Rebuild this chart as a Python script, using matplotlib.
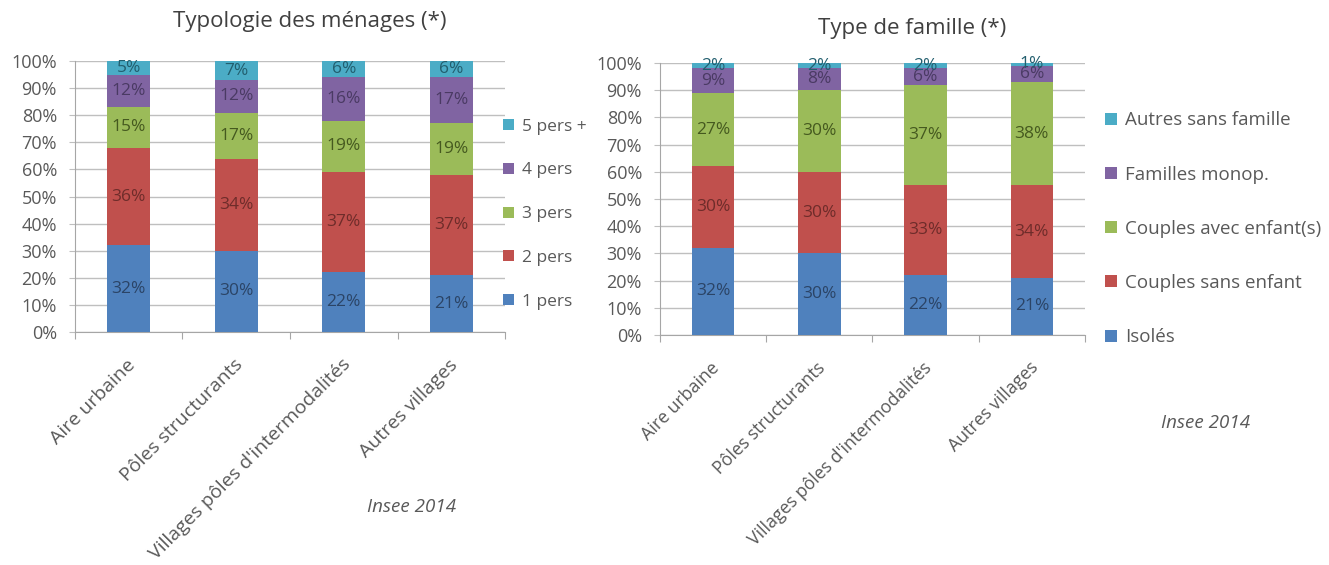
import numpy as np
import matplotlib
matplotlib.use('Agg')
import matplotlib.pyplot as plt

plt.rcParams['font.family'] = ['Open Sans', 'DejaVu Sans']

categories = ['Aire urbaine', 'Pôles structurants', "Villages pôles d'intermodalités", 'Autres villages']

# Typologie des ménages (%)
men_labels = ['1 pers', '2 pers', '3 pers', '4 pers', '5 pers +']
men_1 = [32, 30, 22, 21]
men_2 = [36, 34, 37, 37]
men_3 = [15, 17, 19, 19]
men_4 = [12, 12, 16, 17]
men_5 = [5, 7, 6, 6]

# Type de famille (%)
fam_labels = ['Isolés', 'Couples sans enfant', 'Couples avec enfant(s)', 'Familles monop.', 'Autres sans famille']
fam_iso = [32, 30, 22, 21]
fam_sans = [30, 30, 33, 34]
fam_avec = [27, 30, 37, 38]
fam_monop = [9, 8, 6, 6]
fam_autres = [2, 2, 2, 1]

colors = ['#4F81BD', '#C0504D', '#9BBB59', '#8064A2', '#4BACC6']
text_colors = ['#2B4466', '#6E2C2A', '#45591F', '#4A3A63', '#225E6E']
grey = '#595959'


def stacked(ax, series, labels, catsize):
    x = np.arange(len(categories))
    bottom = np.zeros(len(categories))
    handles = []
    for vals, lab, c, tc in zip(series, labels, colors, text_colors):
        vals = np.array(vals, dtype=float)
        b = ax.bar(x, vals, 0.4, bottom=bottom, color=c, label=lab, zorder=3)
        handles.append(b)
        for xi, v, bt in zip(x, vals, bottom):
            ax.text(xi, bt + v / 2, f'{int(v)}%', ha='center', va='center',
                    fontsize=12.5, color=tc, zorder=4)
        bottom += vals
    ax.set_xlim(-0.5, len(categories) - 0.5)
    ax.set_ylim(0, 100)
    ax.set_yticks(np.arange(0, 101, 10))
    ax.set_yticklabels([f'{v}%' for v in range(0, 101, 10)], fontsize=13, color=grey)
    ax.yaxis.grid(True, color='#BFBFBF', linewidth=1, zorder=0)
    ax.tick_params(axis='y', length=4, color='#BFBFBF', pad=9)
    # ticks sit between the categories
    ax.set_xticks(np.arange(-0.5, len(categories), 1.0))
    ax.set_xticklabels([])
    ax.tick_params(axis='x', length=5, color='#A6A6A6', direction='out')
    for xi, cat in zip(x, categories):
        ax.annotate(cat, xy=(xi, 0), xycoords=('data', 'axes fraction'),
                    xytext=(-2, -17), textcoords='offset points',
                    rotation=45, ha='right', va='top', rotation_mode='anchor',
                    fontsize=catsize, color=grey)
    for s in ['top', 'right']:
        ax.spines[s].set_visible(False)
    ax.spines['left'].set_color('#A6A6A6')
    ax.spines['bottom'].set_color('#A6A6A6')
    return handles


fig = plt.figure(figsize=(13.29, 5.65), dpi=100)
ax1 = fig.add_axes([0.0564, 0.4124, 0.3236, 0.4796])
ax2 = fig.add_axes([0.4966, 0.4071, 0.3198, 0.4814])

h1 = stacked(ax1, [men_1, men_2, men_3, men_4, men_5], men_labels, 14)
h2 = stacked(ax2, [fam_iso, fam_sans, fam_avec, fam_monop, fam_autres], fam_labels, 12.8)

fig.text(0.233, 0.962, 'Typologie des ménages (*)', fontsize=16, color='#404040', ha='center', va='center')
fig.text(0.686, 0.950, 'Type de famille (*)', fontsize=16, color='#404040', ha='center', va='center')

fig.legend(h1[::-1], men_labels[::-1], loc='center left', bbox_to_anchor=(0.367, 0.621),
           frameon=False, fontsize=12.5, labelspacing=1.6, handlelength=0.6,
           handleheight=0.6, handletextpad=0.45, labelcolor=grey)
fig.legend(h2[::-1], fam_labels[::-1], loc='center left', bbox_to_anchor=(0.819, 0.595),
           frameon=False, fontsize=13.5, labelspacing=1.93, handlelength=0.6,
           handleheight=0.6, handletextpad=0.45, labelcolor=grey)

fig.text(0.310, 0.102, 'Insee 2014', fontsize=13.5, style='italic', color=grey, ha='center', va='center')
fig.text(0.907, 0.252, 'Insee 2014', fontsize=13.5, style='italic', color=grey, ha='center', va='center')

fig.savefig('out.png', dpi=100)
